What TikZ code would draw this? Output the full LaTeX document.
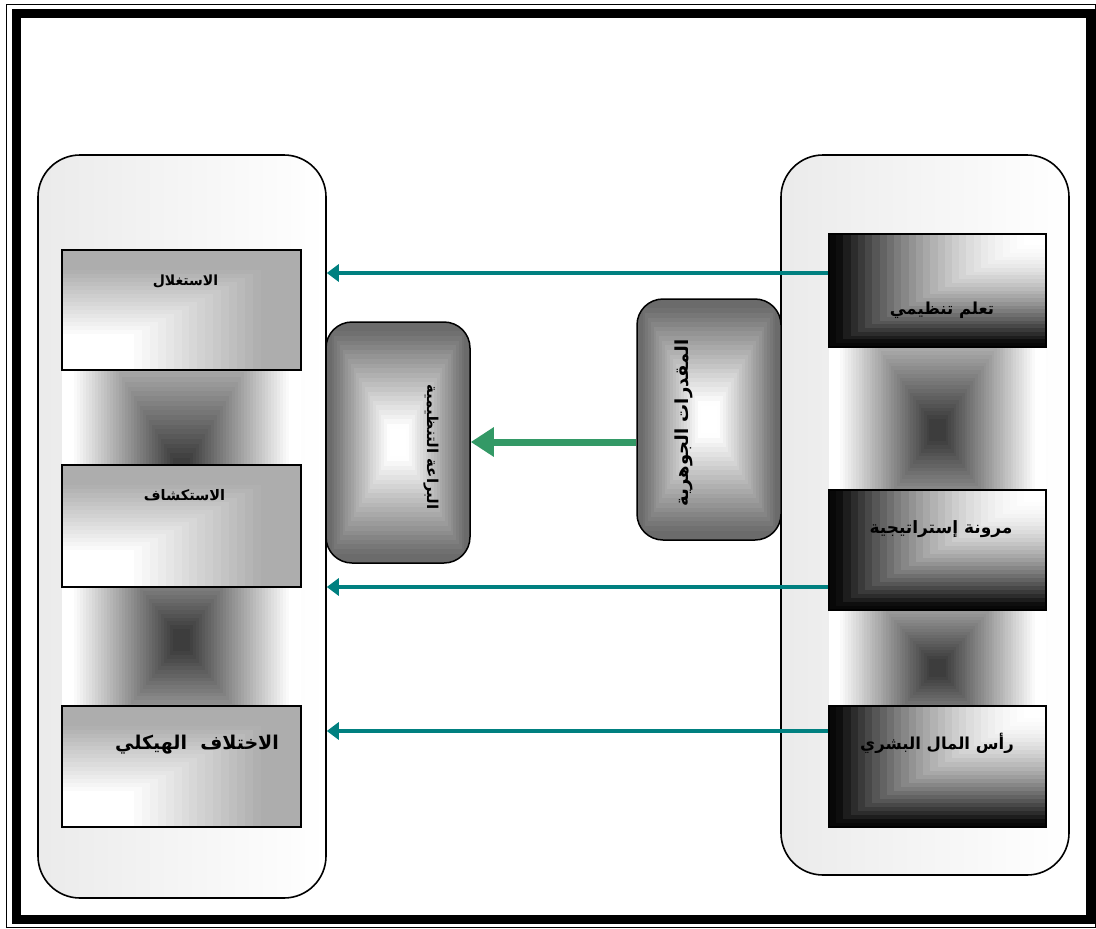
\documentclass[tikz,border=0pt]{standalone}
\usepackage{fontspec}
\newfontfamily\ar[Script=Arabic]{DejaVu Sans}
\TeXXeTstate=1
\usetikzlibrary{arrows.meta}
\definecolor{tealc}{RGB}{0,128,128}
\definecolor{greenc}{RGB}{51,153,102}
\begin{document}
\begin{tikzpicture}[x=1pt,y=-1pt,
  container/.style={draw=black, line width=1.6pt, rounded corners=42pt, left color=black!8, right color=white, inner sep=0pt, minimum width=288pt},
  lbox/.style={draw=black, line width=1.3pt, minimum width=239pt, inner sep=0pt},
  rbox/.style={draw=black, line width=1.3pt, minimum width=217pt, inner sep=0pt},
  midbox/.style={draw=black, line width=1.5pt, rounded corners=26pt, minimum width=144pt, minimum height=241pt, inner sep=0pt},
  lbl/.style={inner sep=0pt, text=black},
  tarrow/.style={draw=tealc, line width=4pt, -{Triangle[length=12pt,width=17pt]}},
  garrow/.style={draw=greenc, line width=7pt, -{Triangle[length=23pt,width=28pt]}}
]
\useasboundingbox (0,0) rectangle (1096,929);
\fill[white] (0,0) rectangle (1096,929);
% frame
\draw[line width=1pt] (6.5,4) rectangle (1095.5,927);
\draw[line width=9pt] (16.5,13.5) rectangle (1090,919);

% containers
\node[container, minimum height=743pt] (L) at (182,526.5) {};
\node[container, minimum height=720pt] (R) at (925,515) {};

% shaded connectors between boxes (dark centre fading outwards)
\foreach \cx/\cy/\hw/\hh/\ga/\gb in {181.5/472/119.5/190/370/465, 181.5/640/119.5/150/587/706, 937.5/430/108.5/150/347/490, 937.5/668/108.5/120/610/706}{
  \begin{scope}
    \clip ({\cx-\hw},\ga) rectangle ({\cx+\hw},\gb);
    \foreach \i in {40,...,1}{
      \pgfmathsetmacro\s{\i/40}
      \pgfmathsetmacro\shadeval{76*(1-min(1,max(0,(\s-0.08)/0.84)))}
      \pgfmathsetmacro\pxa{\cx-\s*\hw}
      \pgfmathsetmacro\pxb{\cx+\s*\hw}
      \pgfmathsetmacro\pya{\cy-\s*\hh}
      \pgfmathsetmacro\pyb{\cy+\s*\hh}
      \fill[black!\shadeval] (\pxa,\pya) rectangle (\pxb,\pyb);
    }
  \end{scope}
}

% left boxes: grey, white towards the lower left corner
\foreach \xa/\ya/\xb/\yb in {62/250/301/370, 62/465/301/587, 62/706/301/827}{
  \foreach \i in {30,...,1}{
    \pgfmathsetmacro\s{\i/30}
    \pgfmathsetmacro\shadeval{32*min(1,max(0,(\s-0.3)/0.55))}
    \pgfmathsetmacro\pxb{\xa+\s*(\xb-\xa)}
    \pgfmathsetmacro\pya{\yb-\s*(\yb-\ya)}
    \fill[black!\shadeval] (\xa,\yb) rectangle (\pxb,\pya);
  }
}
% right boxes: white at upper right corner, black towards left and bottom
\foreach \xa/\ya/\xb/\yb in {829/234/1046/347, 829/490/1046/610, 829/706/1046/827}{
  \foreach \i in {30,...,1}{
    \pgfmathsetmacro\s{\i/30}
    \pgfmathsetmacro\t{min(1,max(0,(\s-0.08)/0.9))}
    \pgfmathsetmacro\shadeval{97*\t^1.7}
    \pgfmathsetmacro\pxa{\xb-\s*(\xb-\xa)}
    \pgfmathsetmacro\pyb{\ya+\s*(\yb-\ya)}
    \fill[black!\shadeval] (\pxa,\ya) rectangle (\xb,\pyb);
  }
}
% middle boxes: white centre, grey edges
\foreach \cx/\cy in {398/442.5, 709/419.5}{
  \begin{scope}
    \clip[rounded corners=26pt] ({\cx-72},{\cy-120.5}) rectangle ({\cx+72},{\cy+120.5});
    \foreach \i in {26,...,1}{
      \pgfmathsetmacro\s{\i/26}
      \pgfmathsetmacro\shadeval{58*min(1,max(0,(\s-0.15)/0.8))}
      \pgfmathsetmacro\pxa{\cx-\s*72}
      \pgfmathsetmacro\pxb{\cx+\s*72}
      \pgfmathsetmacro\pya{\cy-\s*120.5}
      \pgfmathsetmacro\pyb{\cy+\s*120.5}
      \fill[black!\shadeval] (\pxa,\pya) rectangle (\pxb,\pyb);
    }
  \end{scope}
}

% box outlines
\node[lbox, minimum height=120pt] (B1) at (181.5,310) {};
\node[lbox, minimum height=122pt] (B2) at (181.5,526) {};
\node[lbox, minimum height=121pt] (B3) at (181.5,766.5) {};
\node[rbox, minimum height=113pt] (A) at (937.5,290.5) {};
\node[rbox, minimum height=120pt] (B) at (937.5,550) {};
\node[rbox, minimum height=121pt] (C) at (937.5,766.5) {};
\node[midbox] (M1) at (398,442.5) {};
\node[midbox] (M2) at (709,419.5) {};

% labels
\node[lbl, font=\ar\bfseries\fontsize{14}{16}\selectfont] (t1) at (185.5,281) {\beginR الاستغلال\endR};
\node[lbl, font=\ar\bfseries\fontsize{14.5}{16}\selectfont] (t2) at (184.5,495) {\beginR الاستكشاف\endR};
\node[lbl, font=\ar\bfseries\fontsize{19}{21}\selectfont] (t3) at (197,745) {\beginR الاختلاف\ \ الهيكلي\endR};
\node[lbl, font=\ar\bfseries\fontsize{16.5}{18}\selectfont] (tA) at (942,310) {\beginR تعلم تنظيمي\endR};
\node[lbl, font=\ar\bfseries\fontsize{17}{19}\selectfont] (tB) at (941,529) {\beginR مرونة إستراتيجية\endR};
\node[lbl, font=\ar\bfseries\fontsize{16.5}{18}\selectfont] (tC) at (937,743) {\beginR رأس المال البشري\endR};
\node[lbl, font=\ar\bfseries\fontsize{15}{17}\selectfont, rotate=-90] (tM1) at (431,447) {\beginR البراعة التنظيمية\endR};
\node[lbl, font=\ar\bfseries\fontsize{18}{20}\selectfont, rotate=90] (tM2) at (684,423) {\beginR المقدرات الجوهرية\endR};

% arrows
\draw[tarrow] ([yshift=17.5pt]A.west) -- ([yshift=17.5pt]A.west -| L.east);
\draw[tarrow] ([yshift=-37pt]B.west) -- ([yshift=-37pt]B.west -| L.east);
\draw[tarrow] ([yshift=35.5pt]C.west) -- ([yshift=35.5pt]C.west -| L.east);
\draw[garrow] ([yshift=-22.5pt]M2.west) -- ([yshift=-22.5pt]M2.west -| M1.east);
\end{tikzpicture}
\end{document}
